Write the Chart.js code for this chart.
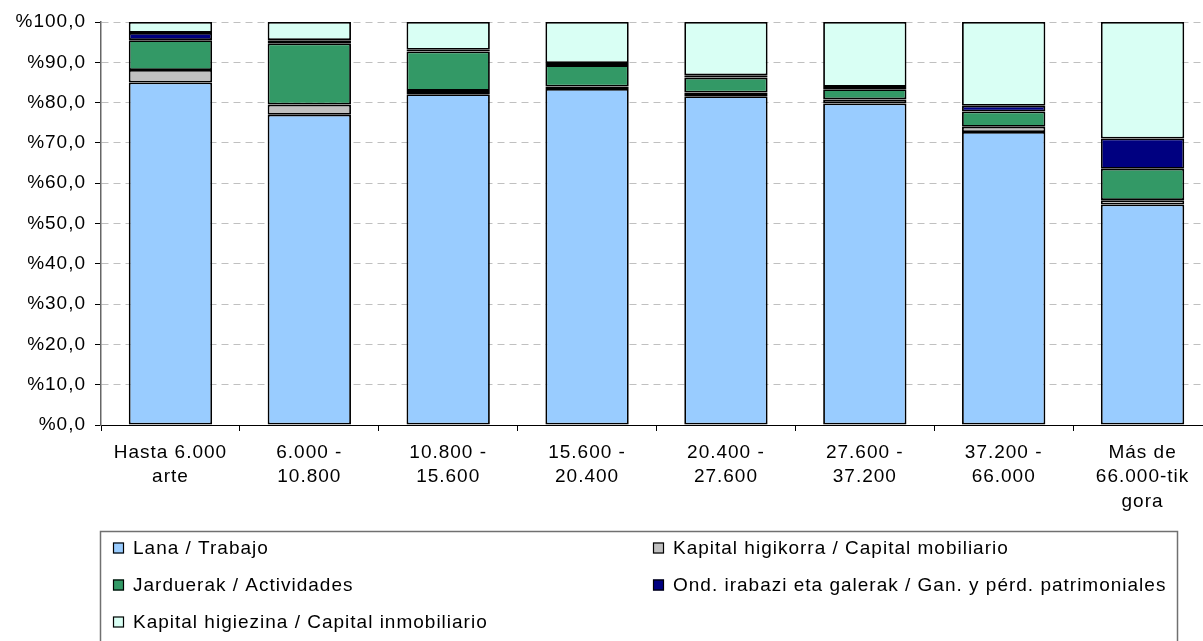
<!DOCTYPE html>
<html>
<head>
<meta charset="utf-8">
<script src="https://cdn.jsdelivr.net/npm/chart.js@4.4.0/dist/chart.umd.min.js"></script>
<style>
    html, body { margin: 0; padding: 0; background: #fff; overflow: hidden; }
    canvas { display: block; }
</style>
</head>
<body>
<canvas id="myChart" width="1225" height="641"></canvas>
<script>
const categories = [
    ['Hasta 6.000', 'arte'],
    ['6.000 -', '10.800'],
    ['10.800 -', '15.600'],
    ['15.600 -', '20.400'],
    ['20.400 -', '27.600'],
    ['27.600 -', '37.200'],
    ['37.200 -', '66.000'],
    ['Más de', '66.000-tik', 'gora']
];

const seriesLabels = [
    'Lana / Trabajo',
    'Kapital higikorra / Capital mobiliario',
    'Jarduerak / Actividades',
    'Ond. irabazi eta galerak / Gan. y pérd. patrimoniales',
    'Kapital higiezina / Capital inmobiliario'
];

const lana = [85.0, 77.0, 82.1, 83.4, 81.6, 79.8, 72.7, 54.7];
const kapitalMobiliario = [3.1, 2.5, 0.8, 0.6, 0.9, 1.0, 1.3, 1.1];
const actividades = [7.4, 15.2, 9.8, 5.3, 3.7, 2.5, 3.8, 7.8];
const patrimoniales = [1.8, 0.8, 0.4, 0.5, 0.6, 0.6, 1.4, 7.5];
const kapitalInmobiliario = [2.7, 4.5, 6.9, 10.2, 13.2, 16.1, 20.8, 28.9];

const yTickLabels = ['%0,0', '%10,0', '%20,0', '%30,0', '%40,0', '%50,0',
    '%60,0', '%70,0', '%80,0', '%90,0', '%100,0'];

const colors = ['#99CCFF', '#C0C0C0', '#339966', '#000080', '#D9FFF4'];
const FONT = '"Liberation Sans", Arial, sans-serif';

// canvas letterSpacing gets reset whenever the canvas is resized
const spacingPlugin = {
    id: 'spacing',
    beforeUpdate(chart) { chart.ctx.letterSpacing = '1px'; },
    beforeDraw(chart) { chart.ctx.letterSpacing = '1px'; }
};

// boxed legend in two columns, like the original
const boxLegend = {
    id: 'boxLegend',
    afterDraw(chart) {
        const ctx = chart.ctx;
        ctx.save();
        ctx.letterSpacing = '1px';
        ctx.strokeStyle = '#707070';
        ctx.lineWidth = 1.5;
        ctx.strokeRect(100.5, 531.5, 1077, 200);
        ctx.font = '19px ' + FONT;
        ctx.textBaseline = 'middle';
        chart.data.datasets.forEach((ds, i) => {
            const col = i % 2;
            const row = Math.floor(i / 2);
            const x = col === 0 ? 113 : 653;
            const y = 548 + row * 37;
            ctx.fillStyle = ds.backgroundColor;
            ctx.fillRect(x, y - 5.5, 11, 11);
            ctx.strokeStyle = '#000';
            ctx.lineWidth = 1.2;
            ctx.strokeRect(x + 0.5, y - 5, 10, 10);
            ctx.fillStyle = '#000';
            ctx.fillText(ds.label, x + 20, y + 1);
        });
        ctx.restore();
    }
};

const series = [lana, kapitalMobiliario, actividades, patrimoniales, kapitalInmobiliario];

const ctx = document.getElementById('myChart').getContext('2d');
const myChart = new Chart(ctx, {
    type: 'bar',
    data: {
        labels: categories,
        datasets: series.map((values, i) => ({
            label: seriesLabels[i],
            data: values,
            backgroundColor: colors[i],
            borderColor: '#000',
            borderWidth: 1.8,
            borderSkipped: false,
            categoryPercentage: 1.0,
            barPercentage: 0.6
        }))
    },
    plugins: [spacingPlugin, boxLegend],
    options: {
        responsive: false,
        animation: false,
        layout: { padding: { left: 0, right: 13, top: 22, bottom: 0 } },
        plugins: {
            legend: { display: false },
            tooltip: { enabled: false }
        },
        scales: {
            x: {
                stacked: true,
                offset: true,
                grid: {
                    offset: true,
                    drawOnChartArea: false,
                    drawTicks: true,
                    tickLength: 6,
                    tickColor: '#000'
                },
                border: { color: '#000', width: 1 },
                ticks: {
                    color: '#000',
                    padding: 9,
                    maxRotation: 0,
                    autoSkip: false,
                    font: { family: FONT, size: 19, lineHeight: 1.3 }
                },
                afterFit(scale) { scale.height = 216; }
            },
            y: {
                stacked: true,
                min: 0,
                max: 100,
                grid: {
                    color: '#c0c0c0',
                    drawTicks: true,
                    tickLength: 6,
                    tickColor: '#000',
                    tickBorderDash: []
                },
                border: { color: '#666', width: 1.5, dash: [7, 5] },
                ticks: {
                    stepSize: 10,
                    color: '#000',
                    padding: 9,
                    font: { family: FONT, size: 19 },
                    callback: (value, index) => yTickLabels[index]
                },
                afterFit(scale) { scale.width = 101; }
            }
        }
    }
});
</script>
</body>
</html>
